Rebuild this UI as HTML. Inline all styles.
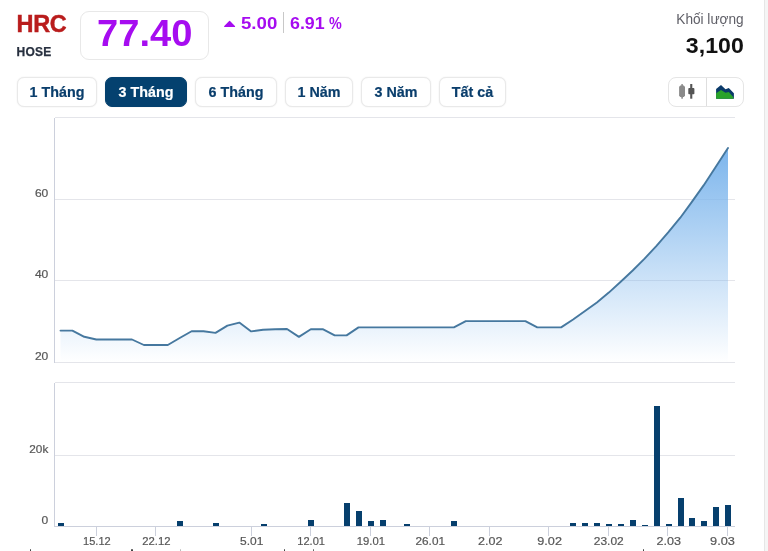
<!DOCTYPE html>
<html lang="vi"><head><meta charset="utf-8"><title>HRC</title>
<style>
*{box-sizing:border-box;margin:0;padding:0}
html,body{width:768px;height:551px;overflow:hidden;background:#fff}
body{font-family:"Liberation Sans",sans-serif;position:relative;color:#111}
.abs{position:absolute;white-space:nowrap;line-height:1;transform-origin:0 0}
.r{transform-origin:100% 0}
.chart{position:absolute;left:0;top:0}
.sym{left:16.6px;top:12.5px;font-size:23.5px;font-weight:700;color:#b91c1c;letter-spacing:-0.4px;-webkit-text-stroke:0.45px #b91c1c}
.exch{left:16.5px;top:45.8px;font-size:12px;font-weight:700;color:#27303f;letter-spacing:0.25px;-webkit-text-stroke:0.25px #27303f}
.box{left:80px;top:11px;width:129px;height:49px;border:1px solid #e8e8e8;border-radius:9px}
.price{left:97.3px;top:16px;font-size:36.4px;font-weight:700;color:#a60cf0;transform:scaleX(1.047)}
.chg{top:14.6px;font-size:16.5px;font-weight:700;color:#a60cf0}
.tri{left:224px;top:21px;width:0;height:0;border-left:5.7px solid transparent;border-right:5.7px solid transparent;border-bottom:6.3px solid #a60cf0}
.sep{left:283.4px;top:12.4px;width:1px;height:20.2px;background:#c8c8c8}
.vl{right:24.5px;top:12px;font-size:14.5px;color:#606068;transform:scaleX(0.94)}
.vv{right:24.5px;top:33.6px;font-size:22.7px;font-weight:700;color:#111;transform:scaleX(1.02)}
.btn{top:77px;height:30px;box-shadow:0 0 1.5px rgba(0,0,0,.10);border:1px solid #e9e9e9;border-radius:7px;font-size:14.3px;font-weight:700;color:#0a3e6c;text-align:center;line-height:28px;background:#fff;-webkit-text-stroke:0.2px}
.btn.on{background:#04416f;color:#fff;border-color:#04416f}
.tog{left:668px;top:77px;width:76px;height:30px;border:1px solid #e5e5e5;border-radius:8px}
.tog i{position:absolute;left:36.8px;top:0;width:1.4px;height:28px;background:#dedede}
.mk{top:549.4px;width:1.6px;height:2px;background:#444;border-radius:1px 1px 0 0}
.mk.t{width:1px;background:#666}
.strip{left:764px;top:0;width:4px;height:551px;background:#f5f5f5;border-left:1px solid #e6e6e6}
</style></head><body>
<svg class="chart" width="768" height="551" viewBox="0 0 768 551">
<defs><linearGradient id="g" x1="0" y1="0" x2="0" y2="1"><stop offset="0" stop-color="#7cb5ec"/><stop offset="1" stop-color="#7cb5ec" stop-opacity="0"/></linearGradient></defs>
<g fill="none" stroke="#e4e5ea" stroke-width="1" shape-rendering="crispEdges">
<path d="M54.5 117.5H734.5M54.5 199.5H734.5M54.5 280.5H734.5M54.5 362.5H734.5"/>
<path d="M54.5 382.5H734.5M54.5 455.5H734.5"/>
<path d="M54.5 117.5V362.5M54.5 382.5V526.5" stroke="#ccd0dc"/>
<path d="M54.5 526.5H734.5M96.5 526.5V535.5M155.5 526.5V535.5M251.5 526.5V535.5M310.5 526.5V535.5M370.5 526.5V535.5M429.5 526.5V535.5M489.5 526.5V535.5M548.5 526.5V535.5M608.5 526.5V535.5M667.5 526.5V535.5M727.5 526.5V535.5" stroke="#ccd0dc"/>
</g>
<path d="M60.5 330.6 L72.4 330.6 L84.3 336.8 L96.3 339.5 L108.2 339.5 L120.1 339.5 L132.0 339.5 L143.9 345.0 L155.9 345.0 L167.8 345.0 L179.7 338.0 L191.6 331.2 L203.5 331.2 L215.5 332.9 L227.4 325.6 L239.3 322.6 L251.2 331.4 L263.1 329.7 L275.1 329.2 L287.0 329.0 L298.9 336.9 L310.8 329.2 L322.7 329.2 L334.7 335.4 L346.6 335.4 L358.5 327.4 L370.4 327.4 L382.3 327.4 L394.3 327.4 L406.2 327.4 L418.1 327.4 L430.0 327.4 L441.9 327.4 L453.9 327.4 L465.8 321.1 L477.7 321.1 L489.6 321.1 L501.5 321.1 L513.5 321.1 L525.4 321.1 L537.3 327.4 L549.2 327.4 L561.1 327.4 L573.1 319.5 L585.0 311.0 L596.9 302.4 L608.8 292.6 L620.7 281.7 L632.7 270.5 L644.6 258.6 L656.5 245.9 L668.4 232.2 L680.3 217.7 L691.7 202.1 L703.6 185.4 L715.5 167.3 L728.0 148.1 L728.0 362.5 L60.5 362.5 Z" fill="url(#g)"/>
<path d="M60.5 330.6 L72.4 330.6 L84.3 336.8 L96.3 339.5 L108.2 339.5 L120.1 339.5 L132.0 339.5 L143.9 345.0 L155.9 345.0 L167.8 345.0 L179.7 338.0 L191.6 331.2 L203.5 331.2 L215.5 332.9 L227.4 325.6 L239.3 322.6 L251.2 331.4 L263.1 329.7 L275.1 329.2 L287.0 329.0 L298.9 336.9 L310.8 329.2 L322.7 329.2 L334.7 335.4 L346.6 335.4 L358.5 327.4 L370.4 327.4 L382.3 327.4 L394.3 327.4 L406.2 327.4 L418.1 327.4 L430.0 327.4 L441.9 327.4 L453.9 327.4 L465.8 321.1 L477.7 321.1 L489.6 321.1 L501.5 321.1 L513.5 321.1 L525.4 321.1 L537.3 327.4 L549.2 327.4 L561.1 327.4 L573.1 319.5 L585.0 311.0 L596.9 302.4 L608.8 292.6 L620.7 281.7 L632.7 270.5 L644.6 258.6 L656.5 245.9 L668.4 232.2 L680.3 217.7 L691.7 202.1 L703.6 185.4 L715.5 167.3 L728.0 148.1" fill="none" stroke="#46789f" stroke-width="1.9" stroke-linejoin="round" stroke-linecap="round"/>
<g fill="#063f6d" shape-rendering="crispEdges"><rect x="58" y="523" width="6" height="3"/><rect x="177" y="521" width="6" height="5"/><rect x="213" y="523" width="6" height="3"/><rect x="261" y="524" width="6" height="2"/><rect x="308" y="520" width="6" height="6"/><rect x="344" y="503" width="6" height="23"/><rect x="356" y="511" width="6" height="15"/><rect x="368" y="521" width="6" height="5"/><rect x="380" y="520" width="6" height="6"/><rect x="404" y="524" width="6" height="2"/><rect x="451" y="521" width="6" height="5"/><rect x="570" y="523" width="6" height="3"/><rect x="582" y="523" width="6" height="3"/><rect x="594" y="523" width="6" height="3"/><rect x="606" y="524" width="6" height="2"/><rect x="618" y="524" width="6" height="2"/><rect x="630" y="520" width="6" height="6"/><rect x="642" y="525" width="6" height="1"/><rect x="654" y="406" width="6" height="120"/><rect x="666" y="524" width="6" height="2"/><rect x="678" y="498" width="6" height="28"/><rect x="689" y="518" width="6" height="8"/><rect x="701" y="521" width="6" height="5"/><rect x="713" y="507" width="6" height="19"/><rect x="725" y="505" width="6" height="21"/></g>
<g font-family="'Liberation Sans',sans-serif" font-size="11" fill="#575757" stroke="#575757" stroke-width="0.2">
<text x="48.3" y="197" text-anchor="end" textLength="13.4" lengthAdjust="spacingAndGlyphs">60</text>
<text x="48.3" y="278" text-anchor="end" textLength="13.4" lengthAdjust="spacingAndGlyphs">40</text>
<text x="48.3" y="360" text-anchor="end" textLength="13.4" lengthAdjust="spacingAndGlyphs">20</text>
<text x="48.3" y="453" text-anchor="end" textLength="19" lengthAdjust="spacingAndGlyphs">20k</text>
<text x="48.3" y="524" text-anchor="end" textLength="6.7" lengthAdjust="spacingAndGlyphs">0</text>
<text x="83.05" y="545" textLength="27.65" lengthAdjust="spacingAndGlyphs">15.12</text><text x="142.20" y="545" textLength="28.25" lengthAdjust="spacingAndGlyphs">22.12</text><text x="240.10" y="545" textLength="23.30" lengthAdjust="spacingAndGlyphs">5.01</text><text x="297.30" y="545" textLength="27.70" lengthAdjust="spacingAndGlyphs">12.01</text><text x="356.80" y="545" textLength="28.15" lengthAdjust="spacingAndGlyphs">19.01</text><text x="415.55" y="545" textLength="29.40" lengthAdjust="spacingAndGlyphs">26.01</text><text x="478.05" y="545" textLength="24.40" lengthAdjust="spacingAndGlyphs">2.02</text><text x="537.30" y="545" textLength="24.65" lengthAdjust="spacingAndGlyphs">9.02</text><text x="593.80" y="545" textLength="29.90" lengthAdjust="spacingAndGlyphs">23.02</text><text x="656.50" y="545" textLength="24.50" lengthAdjust="spacingAndGlyphs">2.03</text><text x="710.10" y="545" textLength="24.80" lengthAdjust="spacingAndGlyphs">9.03</text>
</g>
</svg>
<div class="abs sym">HRC</div>
<div class="abs exch">HOSE</div>
<div class="abs box"></div>
<div class="abs price">77.40</div>
<svg class="abs" style="left:222px;top:18px" width="16" height="12" viewBox="0 0 16 12"><path d="M2.7 8.5L7.6 3.5L12.5 8.5Z" fill="#a60cf0" stroke="#a60cf0" stroke-width="1.2" stroke-linejoin="round"/></svg>
<div class="abs chg" style="left:240.6px;transform:scaleX(1.13)">5.00</div>
<div class="abs sep"></div>
<div class="abs chg" style="left:289.6px;transform:scaleX(1.08)">6.91</div>
<div class="abs chg" style="left:328.6px;transform:scaleX(0.87)">%</div>
<div class="abs vl r">Khối lượng</div>
<div class="abs vv r">3,100</div>
<div class="abs btn" style="left:17px;width:80px">1 Tháng</div>
<div class="abs btn on" style="left:105px;width:82px">3 Tháng</div>
<div class="abs btn" style="left:195px;width:82px">6 Tháng</div>
<div class="abs btn" style="left:285px;width:68px">1 Năm</div>
<div class="abs btn" style="left:361px;width:70px">3 Năm</div>
<div class="abs btn" style="left:439px;width:67px">Tất cả</div>
<div class="abs tog"><i></i>
<svg width="76" height="30" viewBox="0 0 76 30" style="position:absolute;left:-1px;top:-1px">
<g fill="#8a8a8a"><path d="M11.1 9.8L12.3 8.6H15.8L17 9.8V18.7L15.8 19.9H12.3L11.1 18.7Z"/><rect x="13.3" y="7.1" width="1.6" height="14.6"/></g>
<g fill="#555"><rect x="20.3" y="11.1" width="6.1" height="6.1" rx="0.8"/><rect x="22.2" y="7" width="2.1" height="14.7"/></g>
<path d="M48.1 21.75V11.9L53 8.1L57.5 12.2L60.8 10.9L65.9 16.25V21.75Z" fill="#0b3a6a"/>
<path d="M48.1 21.75V16.25L53 12.9L57.5 15.75L60.8 15L65.4 20.3V21.75Z" fill="#2aa32a"/>
</svg></div>
<div class="abs strip"></div>
<i class="abs mk" style="left:29.5px"></i><i class="abs mk" style="left:131px"></i><i class="abs mk" style="left:283.5px"></i><i class="abs mk t" style="left:312.7px"></i><i class="abs mk" style="left:642.5px"></i><i class="abs mk t" style="left:180px;background:#bbb"></i>
</body></html>
